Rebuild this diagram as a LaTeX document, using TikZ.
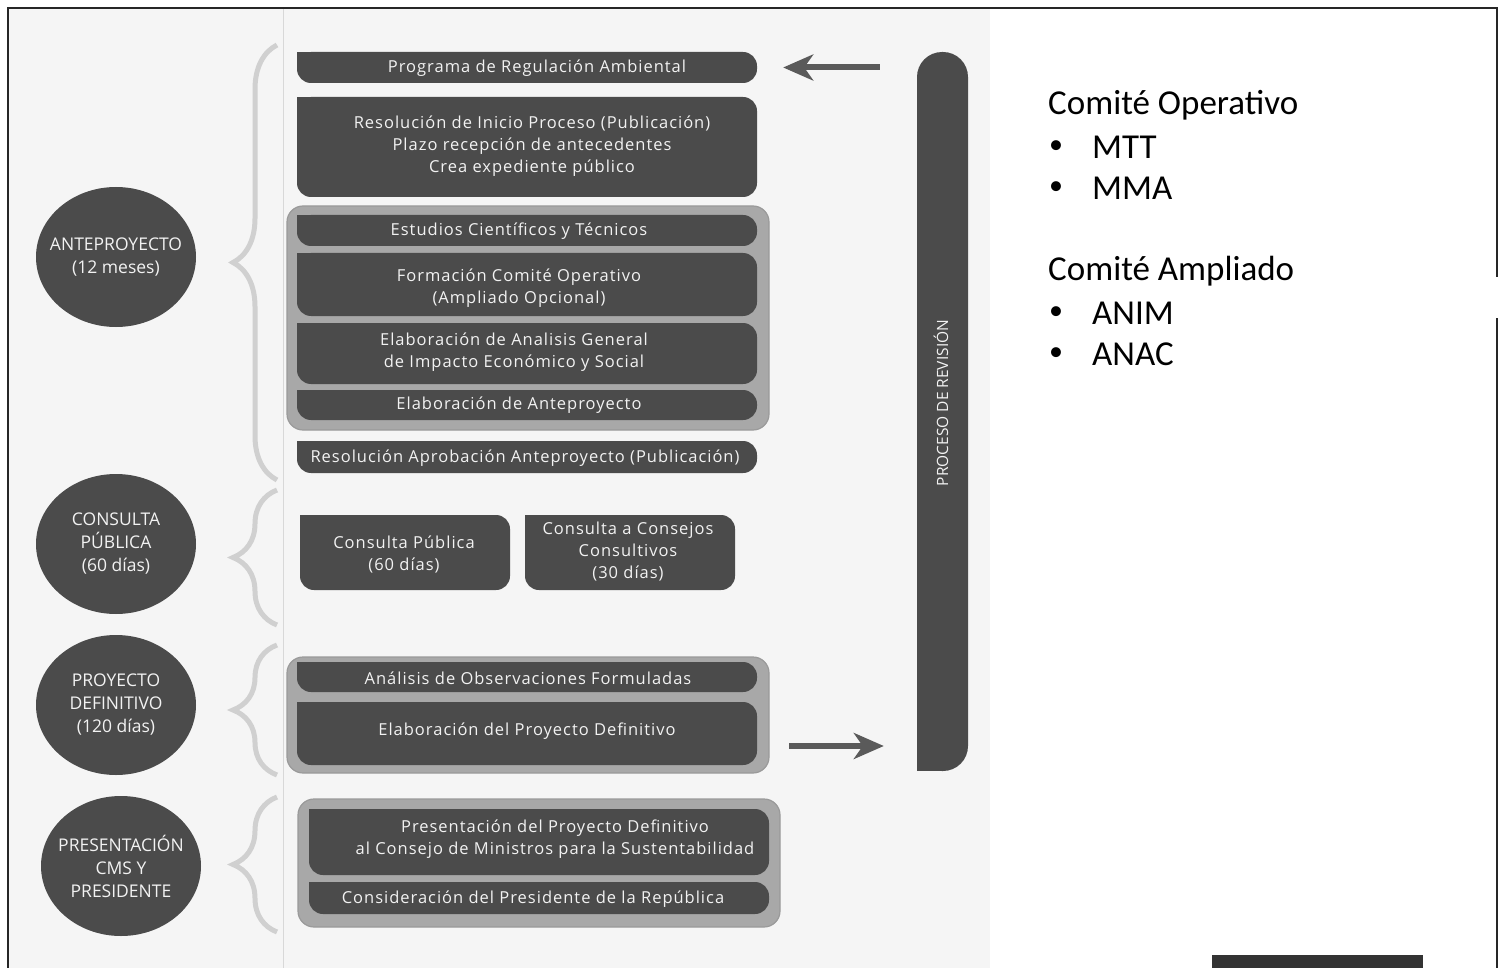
\documentclass[tikz,border=0pt]{standalone}
\usepackage{fontspec}
\setmainfont{Open Sans}
\newfontfamily\boxfont[LetterSpace=6]{Open Sans}
\newfontfamily\calib{Carlito}
\usetikzlibrary{shapes.geometric,decorations.pathreplacing,arrows.meta,calc}
\definecolor{boxc}{HTML}{4B4B4B}
\definecolor{grpc}{HTML}{A8A8A8}
\definecolor{grpb}{HTML}{9A9A9A}
\definecolor{bgc}{HTML}{F5F5F5}
\definecolor{bracec}{HTML}{D0D0D0}
\definecolor{arrc}{HTML}{5A5A5A}
\definecolor{txtc}{HTML}{F2F2F2}
\definecolor{sepc}{HTML}{D8D8D8}
\newcommand\leafshape[4]{%
  \fill[boxc,rounded corners=14pt] (#1,#2) rectangle (#3,#4);
  \fill[boxc] (#1,#2) rectangle ++(16,16);}
\newcommand\grpshape[4]{%
  \filldraw[fill=grpc,draw=grpb,line width=1.2pt,rounded corners=16pt] (#1,#2) rectangle (#3,#4);}
\begin{document}
\begin{tikzpicture}[x=1pt,y=-1pt,
  btxt/.style={text=txtc,align=center,inner sep=0pt,font=\boxfont\fontsize{16.5}{22}\selectfont},
  circ/.style={ellipse,fill=boxc,text=txtc,align=center,inner sep=-10pt,minimum width=160pt,minimum height=140pt,font=\fontsize{17.5}{23}\selectfont},
  brc/.style={draw=bracec,line width=5pt,decorate,decoration={brace,amplitude=44pt}},
  bigarrow/.style={draw=arrc,line width=6pt,-{Stealth[length=30pt,width=26pt,inset=9pt]}},
  rtxt/.style={anchor=west,inner sep=0pt,font=\calib\fontsize{35}{35}\selectfont},
  bul/.style={anchor=west,inner sep=0pt,font=\calib\fontsize{28}{28}\selectfont}]
\useasboundingbox (0,0) rectangle (1504,968);
% backgrounds
\fill[white] (0,0) rectangle (1504,968);
\fill[bgc] (9,9) rectangle (990,968);
\draw[sepc,line width=1pt] (283,9) -- (283,968);
% frame
\draw[black!85,line width=1.5pt] (8,968) -- (8,8) -- (1497,8) -- (1497,277);
\draw[black!85,line width=1.5pt] (1497,318) -- (1497,968);
\fill[black!80] (1212,955) rectangle (1423,968);
% circles
\node[circ] (c1) at (116,257) {ANTEPROYECTO\\(12 meses)};
\node[circ] (c2) at (116,544) {CONSULTA\\PÚBLICA\\(60 días)};
\node[circ] (c3) at (116,705) {PROYECTO\\DEFINITIVO\\(120 días)};
\node[circ] (c4) at (121,866) {PRESENTACIÓN\\CMS Y\\PRESIDENTE};
% braces
\draw[brc] (277,480) -- (277,45);
\draw[brc] (277,625) -- (277,490);
\draw[brc] (277,775) -- (277,645);
\draw[brc] (277,932) -- (277,797);
% groups
\grpshape{287}{206}{769}{430}
\grpshape{287}{657}{769}{773}
\grpshape{298}{799}{780}{927}
\node[inner sep=0pt,minimum width=482pt,minimum height=116pt] (grp2) at (528,715) {};
% boxes
\leafshape{297}{52}{757}{83}
\node[inner sep=0pt,minimum width=460pt,minimum height=31pt] (progbox) at (527,67.5) {};
\node[btxt] (prog) at (537,68.5) {Programa de Regulación Ambiental};
\leafshape{297}{97}{757}{197}
\node[btxt] (inicio) at (532,146) {Resolución de Inicio Proceso (Publicación)\\Plazo recepción de antecedentes\\Crea expediente público};
\leafshape{297}{215}{757}{246}
\node[btxt] (estud) at (519,231) {Estudios Científicos y Técnicos};
\leafshape{297}{253}{757}{316}
\node[btxt] (form) at (519,288) {Formación Comité Operativo\\(Ampliado Opcional)};
\leafshape{297}{323}{757}{384}
\node[btxt] (agies) at (514,352) {Elaboración de Analisis General\\de Impacto Económico y Social};
\leafshape{297}{390}{757}{420}
\node[btxt] (antep) at (519,405) {Elaboración de Anteproyecto};
\leafshape{297}{441}{757}{473}
\node[btxt] (aprob) at (525,458) {Resolución Aprobación Anteproyecto (Publicación)};
\leafshape{300}{515}{510}{590}
\node[btxt] (cpub) at (404,554) {Consulta Pública\\(60 días)};
\leafshape{525}{515}{735}{590}
\node[btxt] (ccons) at (628,552) {Consulta a Consejos\\Consultivos\\(30 días)};
\leafshape{297}{662}{757}{692}
\node[btxt] (anal) at (528,678) {Análisis de Observaciones Formuladas};
\leafshape{297}{702}{757}{765}
\node[btxt] (elabpd) at (527,731) {Elaboración del Proyecto Definitivo};
\leafshape{309}{809}{769}{875}
\node[btxt] (pres) at (555,839) {Presentación del Proyecto Definitivo\\al Consejo de Ministros para la Sustentabilidad};
\leafshape{309}{882}{769}{914}
\node[btxt] (consid) at (533,899) {Consideración del Presidente de la República};
% revision bar
\fill[boxc,rounded corners=25pt] (917,52) rectangle (968,771);
\fill[boxc] (917,740) rectangle (940,771);
\node[inner sep=0pt,minimum width=51pt,minimum height=719pt] (bar) at (942.5,411.5) {};
\node[inner sep=0pt,text=txtc,font=\fontsize{15.5}{16}\selectfont] (barlbl) at (941,403) {\rotatebox{90}{PROCESO DE REVISIÓN}};
% arrows
\draw[bigarrow,shorten <=37pt,shorten >=26pt] (bar.west |- progbox.east) -- (progbox.east);
\coordinate (a2) at (769,746);
\draw[bigarrow,shorten <=20pt,shorten >=33pt] (a2) -- (bar.west |- a2);
% right text
\node[rtxt] (co) at (1048,105) {Comité Operativo};
\node[bul] (b1) at (1049,147) {•};
\node[rtxt] (mtt) at (1092,147) {MTT};
\node[bul] (b2) at (1049,188) {•};
\node[rtxt] (mma) at (1092,188) {MMA};
\node[rtxt] (ca) at (1048,271) {Comité Ampliado};
\node[bul] (b3) at (1049,313) {•};
\node[rtxt] (anim) at (1092,313) {ANIM};
\node[bul] (b4) at (1049,354) {•};
\node[rtxt] (anac) at (1092,354) {ANAC};
\end{tikzpicture}
\end{document}
